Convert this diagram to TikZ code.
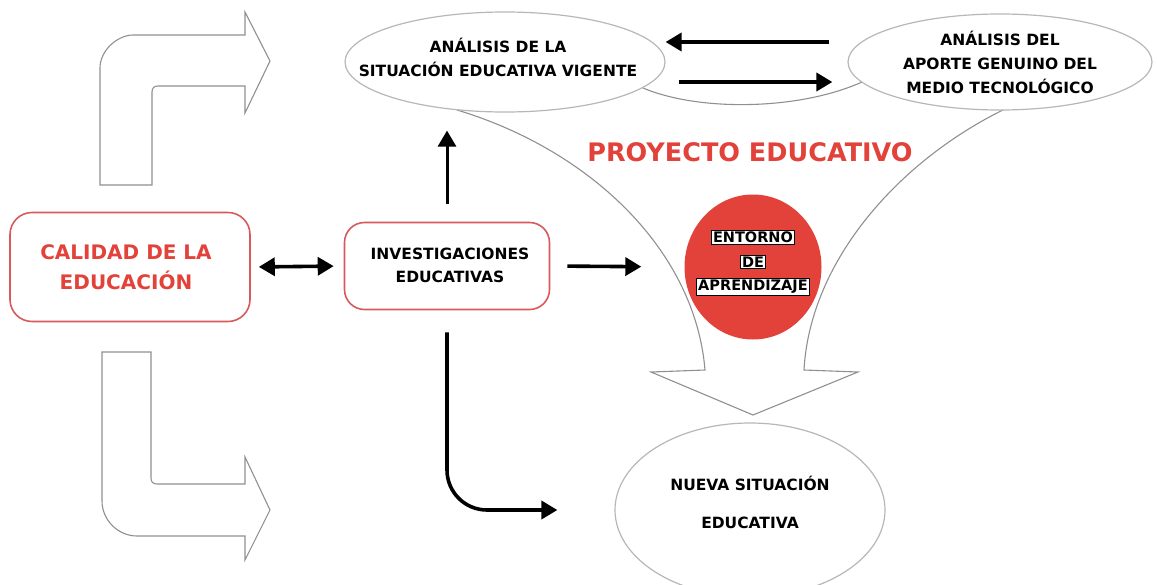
\documentclass[tikz,border=0pt]{standalone}
\usepackage{fontspec}
\setmainfont{Liberation Sans}
\newfontfamily\gruesa{DejaVu Sans Bold}
\usetikzlibrary{arrows.meta,positioning,shapes.geometric}
\definecolor{rojo}{RGB}{226,66,58}
\definecolor{borde}{RGB}{214,90,90}
\definecolor{linea}{RGB}{125,125,125}

\begin{document}
\begin{tikzpicture}[x=1pt, y=-1pt,
    box/.style={draw=borde, line width=1.6pt, rounded corners=22pt},
    oval/.style={ellipse, draw=linea!55, line width=1.2pt, fill=white, inner sep=0pt},
    txt/.style={align=center, font=\gruesa\fontsize{15.5}{24}\selectfont},
    arrow/.style={-{Triangle[length=16pt,width=18pt]}, line width=3.6pt},
    blockarrow/.style={draw=linea!85, line width=1.1pt, fill=white},
    lbl/.style={fill=white, draw=black, line width=0.6pt, inner sep=1.5pt,
        font=\gruesa\fontsize{14.5}{16}\selectfont}]

    \useasboundingbox (0,0) rectangle (1157,584);

    % bent block arrows on the left
    \draw[blockarrow] (100,185) -- (100,68) .. controls (100,50) and (118,35) .. (133,35)
        -- (245,35) -- (245,12) -- (270,61) -- (245,113) -- (245,86) -- (158,86)
        .. controls (154,86) and (152,88) .. (152,92) -- (152,185) -- cycle;
    \draw[blockarrow] (102,352) -- (151,352) -- (151,478) .. controls (151,482) and (153,484) .. (157,484)
        -- (245,484) -- (245,457) -- (270,510) -- (245,560) -- (245,536) -- (137,536)
        .. controls (118,536) and (102,520) .. (102,501) -- cycle;

    % funnel arrow
    \draw[blockarrow] (457,110) .. controls (590,150) and (695,250) .. (705,370)
        -- (651,372) -- (753,415) -- (858,372) -- (804,370)
        .. controls (810,260) and (900,160) .. (1005,109);
    \draw[blockarrow, fill=none] (643,88) .. controls (700,112) and (800,110) .. (862,82);

    % ellipses
    \node[oval, minimum width=320pt, minimum height=100pt] (situacion) at (505,62) {};
    \node[txt] (situaciontxt) at (498,57) {ANÁLISIS DE LA\\SITUACIÓN EDUCATIVA VIGENTE};
    \node[oval, minimum width=304pt, minimum height=96pt] (aporte) at (1000,62) {};
    \node[txt] (aportetxt) at (aporte.center) {ANÁLISIS DEL\\APORTE GENUINO DEL\\MEDIO TECNOLÓGICO};
    \node[oval, minimum width=270pt, minimum height=174pt] (nueva) at (750,510) {};
    \node[txt, font=\gruesa\fontsize{15.5}{38}\selectfont] (nuevatxt) at (750,502) {NUEVA SITUACIÓN\\EDUCATIVA};

    % boxes
    \node[box, minimum width=240pt, minimum height=109pt] (calidad) at (130,267) {};
    \node[txt, text=rojo, font=\gruesa\fontsize{20}{30}\selectfont] (calidadtxt) at (126,267) {CALIDAD DE LA\\EDUCACIÓN};
    \node[box, minimum width=205pt, minimum height=87pt, rounded corners=20pt] (invest) at (447,266) {};
    \node[txt, font=\gruesa\fontsize{15.5}{23}\selectfont] (investtxt) at (450,265) {INVESTIGACIONES\\EDUCATIVAS};

    % learning environment
    \node[ellipse, fill=rojo, minimum width=137pt, minimum height=145pt] (entorno) at (753,267) {};
    \node[lbl] (entorno1) at (753,237) {ENTORNO};
    \node[lbl] (entorno2) at (753,262) {DE};
    \node[lbl] (entorno3) at (753,287) {APRENDIZAJE};

    \node[text=rojo, font=\gruesa\fontsize{25.5}{28}\selectfont] (proyecto) at (750,152) {PROYECTO EDUCATIVO};

    % connectors
    \draw[arrow] ([xshift=-18pt,yshift=20pt]aporte.west) -- ([yshift=20pt]situacion.east);
    \draw[arrow] ([xshift=13pt,yshift=-20pt]situacion.east) -- ([xshift=-15pt,yshift=-20pt]aporte.west);
    \draw[arrow, {Triangle[length=16pt,width=18pt]}-{Triangle[length=16pt,width=18pt]}, shorten <=8pt, shorten >=10pt] (calidad.east) -- (invest.west);
    \draw[arrow, shorten <=17pt, shorten >=43pt] (invest.east) -- (entorno.west);
    \draw[arrow, line width=3pt, shorten <=18pt, shorten >=18pt] (invest.north) -- (invest.north |- situacion.south);
    \draw[arrow, line width=3.6pt, rounded corners=40pt, shorten <=22pt, shorten >=57pt] (invest.south) |- (nueva.west);
\end{tikzpicture}
\end{document}
